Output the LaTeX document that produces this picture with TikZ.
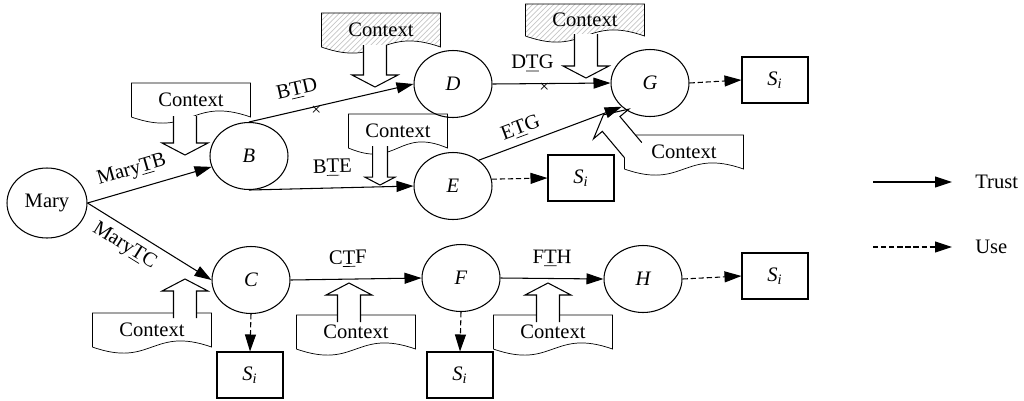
\documentclass[tikz,border=0pt]{standalone}
\usepackage{fontspec}
\setmainfont{Liberation Serif}
\usetikzlibrary{shapes.geometric,arrows.meta,patterns,backgrounds}

\newcommand{\figfont}{\fontsize{11.7}{14}\selectfont}
\newcommand{\ctxshape}[2][fill=white]{%
	\draw[#1] (#2.south east) -- (#2.north east) -- (#2.north west) -- (#2.south west)
		.. controls ([yshift=-12pt]#2.south) and ([yshift=12pt]#2.south) .. (#2.south east) -- cycle;}
\newcommand{\Si}{\textit{S}\textsubscript{\textit{i}}}

\tikzset{
	agent/.style={draw, ellipse, minimum width=1.56cm, minimum height=1.34cm, inner sep=0pt, font=\figfont\itshape},
	res/.style={draw, rectangle, minimum width=1.32cm, minimum height=0.92cm, inner sep=0pt, font=\figfont},
	ctx/.style={rectangle, minimum width=2.36cm, minimum height=0.66cm, inner sep=0pt, font=\figfont},
	hatched/.style={pattern=north east lines, pattern color=gray!45},
	lbl/.style={font=\figfont, sloped},
	nox/.style={font=\fontsize{10}{11}\selectfont, inner sep=0pt},
	trust/.style={-{Triangle[length=0.34cm,width=0.22cm]}},
	use/.style={trust, dash pattern=on 3pt off 1.6pt},
	pics/ctxarrow/.style={code={
		\draw[fill=white] (0,-11.5) -- (#1-12,-11.5) -- (#1-12,-23) -- (#1,0) -- (#1-12,23) -- (#1-12,11.5) -- (0,11.5);
	}}
}

\begin{document}
\begin{tikzpicture}[x=0.02cm, y=-0.02cm, line width=0.6pt, font=\figfont]
	\useasboundingbox (0,0) rectangle (1024,400);

	\node[agent, font=\figfont, minimum width=1.6cm, minimum height=1.4cm] (Mary) at (47,203) {Mary};
	\node[agent] (B) at (249,156) {B};
	\node[agent] (C) at (251,280) {C};
	\node[agent] (D) at (453,84) {D};
	\node[agent] (E) at (453,186) {E};
	\node[agent] (F) at (461,278) {F};
	\node[agent] (G) at (650,83) {G};
	\node[agent] (H) at (643,279) {H};

	\node[res] (SG) at (775,80) {\Si};
	\node[res] (SE) at (581,178) {\Si};
	\node[res] (SH) at (775,276) {\Si};
	\node[res] (SC) at (250,375) {\Si};
	\node[res] (SF) at (460,375) {\Si};

	\node[ctx] (ctxB) at (191,100) {Context};
	\node[ctx] (ctxD) at (381,30) {Context};
	\node[ctx, minimum height=0.62cm] (ctxG) at (585,20) {Context};
	\node[ctx, minimum width=1.96cm] (ctxE) at (398,131) {Context};
	\node[ctx] (ctxGr) at (684,152) {Context};
	\node[ctx] (ctxC) at (152,330) {Context};
	\node[ctx] (ctxCF) at (356,332) {Context};
	\node[ctx] (ctxFH) at (553,332) {Context};

	\begin{scope}[on background layer]
		\ctxshape{ctxB}
		\ctxshape[hatched]{ctxD}
		\ctxshape[hatched]{ctxG}
		\ctxshape{ctxE}
		\ctxshape{ctxGr}
		\ctxshape{ctxC}
		\ctxshape{ctxCF}
		\ctxshape{ctxFH}
	\end{scope}

	\pic[rotate=-90] at (185,116) {ctxarrow=39};
	\pic[rotate=-90] at (375,45) {ctxarrow=42};
	\pic[rotate=-90] at (586,34) {ctxarrow=44};
	\pic[rotate=-90, scale=0.65] at (380,146) {ctxarrow=60};
	\pic[rotate=130] at (633,150) {ctxarrow=46};
	\pic[rotate=90] at (185,318) {ctxarrow=39};
	\pic[rotate=90] at (349,322) {ctxarrow=39};
	\pic[rotate=90] at (548,322) {ctxarrow=39};

	\draw[trust] (Mary.east) -- (B) node[lbl, pos=.4, above=2pt] {Mary\underline{T}B};
	\draw[trust] (Mary.east) -- (C.west) node[lbl, pos=.37, below=1pt] {Mary\underline{T}C};
	\draw[trust] (B.north) -- (D.west) node[lbl, pos=.32, above=3pt] {B\underline{T}D}
		node[nox, pos=.41, yshift=-2.5pt] {×};
	\draw[trust] (B.south) -- (E.west) node[lbl, pos=.51, above=3pt] {B\underline{T}E};
	\draw[trust] (D.east) -- (G.west) node[lbl, pos=.34, above=3pt] {D\underline{T}G}
		node[nox, pos=.44, yshift=-2.5pt] {×};
	\draw[trust] (E.45) -- (G.220) node[lbl, pos=.33, above] {E\underline{T}G};
	\draw[trust] (C.east) -- (F.west) node[lbl, pos=.44, above=3pt] {C\underline{T}F};
	\draw[trust] (F.east) -- (H.west) node[lbl, pos=.5, above=3pt] {F\underline{T}H};

	\draw[use] (G.east) -- (SG.west);
	\draw[use] (E.10) -- (SE.west);
	\draw[use] (H.east) -- (SH.west);
	\draw[use] (C.south) -- (SC.north);
	\draw[use] (F.south) -- (SF.north);

	\coordinate (trustA) at (873,182);
	\coordinate (trustB) at (952,182);
	\coordinate (useA) at (873,247);
	\coordinate (useB) at (952,247);
	\draw[trust] (trustA) -- (trustB);
	\draw[use] (useA) -- (useB);
	\node[anchor=west] (trustlbl) at (969,182) {Trust};
	\node[anchor=west] (uselbl) at (969,247) {Use};
\end{tikzpicture}
\end{document}
